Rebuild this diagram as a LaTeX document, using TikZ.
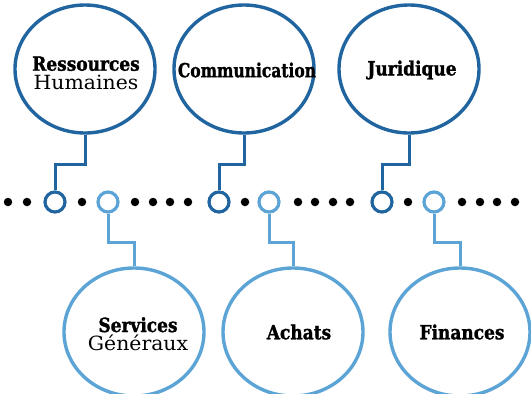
\documentclass[tikz,border=0pt]{standalone}
\usepackage{fontspec}
\setmainfont{DejaVu Serif}
\newfontfamily\heavyfont{DejaVu Serif Bold}[FakeBold=1.5]
\newcommand{\myTall}[1]{\scalebox{1}[1.15]{#1}}
\usetikzlibrary{shapes.geometric}
\definecolor{dblue}{RGB}{32,100,160}
\definecolor{lblue}{RGB}{92,164,214}
\begin{document}
\begin{tikzpicture}[x=1pt,y=-1pt,
  ell/.style={ellipse, line width=3.4pt, minimum width=140pt, minimum height=128pt, inner sep=0pt},
  topell/.style={ell, draw=dblue},
  botell/.style={ell, draw=lblue},
  ring/.style={circle, line width=3.2pt, minimum size=20pt, inner sep=0pt, fill=white},
  dring/.style={ring, draw=dblue},
  lring/.style={ring, draw=lblue},
  dotn/.style={circle, fill=black, minimum size=8.5pt, inner sep=0pt},
  dlink/.style={draw=dblue, line width=3pt},
  llink/.style={draw=lblue, line width=3pt},
  lbl/.style={align=center, inner sep=0pt, font=\heavyfont\fontsize{17}{16.5}\selectfont}
]
\useasboundingbox (0,0) rectangle (531,394);
% dots
\foreach \x [count=\i] in {8,27,82,135,153,170,188,245,298,315,333,350,408,462,480,497,515}
  \node[dotn] (d\i) at (\x,202) {};
% rings
\node[dring] (rhc) at (55,202) {};
\node[dring] (coc) at (219,202) {};
\node[dring] (juc) at (382,202) {};
\node[lring] (sgc) at (108,202) {};
\node[lring] (acc) at (269,202) {};
\node[lring] (fic) at (434,202) {};
% ellipses
\node[topell] (rh) at (85,69) {};
\node[topell] (co) at (244,69) {};
\node[topell] (ju) at (409,69) {};
\node[botell] (sg) at (134,332) {};
\node[botell] (ac) at (293,332) {};
\node[botell] (fi) at (460,332) {};
% connectors
\draw[dlink] (rh.south) -- ++(0,30) -| (rhc.north);
\draw[dlink] (co.south) -- ++(0,30) -| (coc.north);
\draw[dlink] (ju.south) -- ++(0,30) -| (juc.north);
\draw[llink] (sgc.south) -- ++(0,29) -| (sg.north);
\draw[llink] (acc.south) -- ++(0,29) -| (ac.north);
\draw[llink] (fic.south) -- ++(0,29) -| (fi.north);
% labels
\node[lbl] (rht) at (86,73) {\myTall{Ressources}\\[2pt]{\normalfont\fontsize{17}{16}\selectfont\scalebox{1.2}[1.15]{Humaines}}};
\node[lbl, font=\heavyfont\fontsize{15.5}{15}\selectfont] (cot) at (247,70) {\scalebox{1}[1.25]{Communication}};
\node[lbl] (jut) at (412,70) {\myTall{Juridique}};
\node[lbl] (sgt) at (138,334) {\myTall{Services}\\[2pt]{\normalfont\fontsize{17}{16}\selectfont\scalebox{1.2}[1.15]{Généraux}}};
\node[lbl] (act) at (299,332) {\myTall{Achats}};
\node[lbl] (fit) at (462,332) {\myTall{Finances}};
\end{tikzpicture}
\end{document}
